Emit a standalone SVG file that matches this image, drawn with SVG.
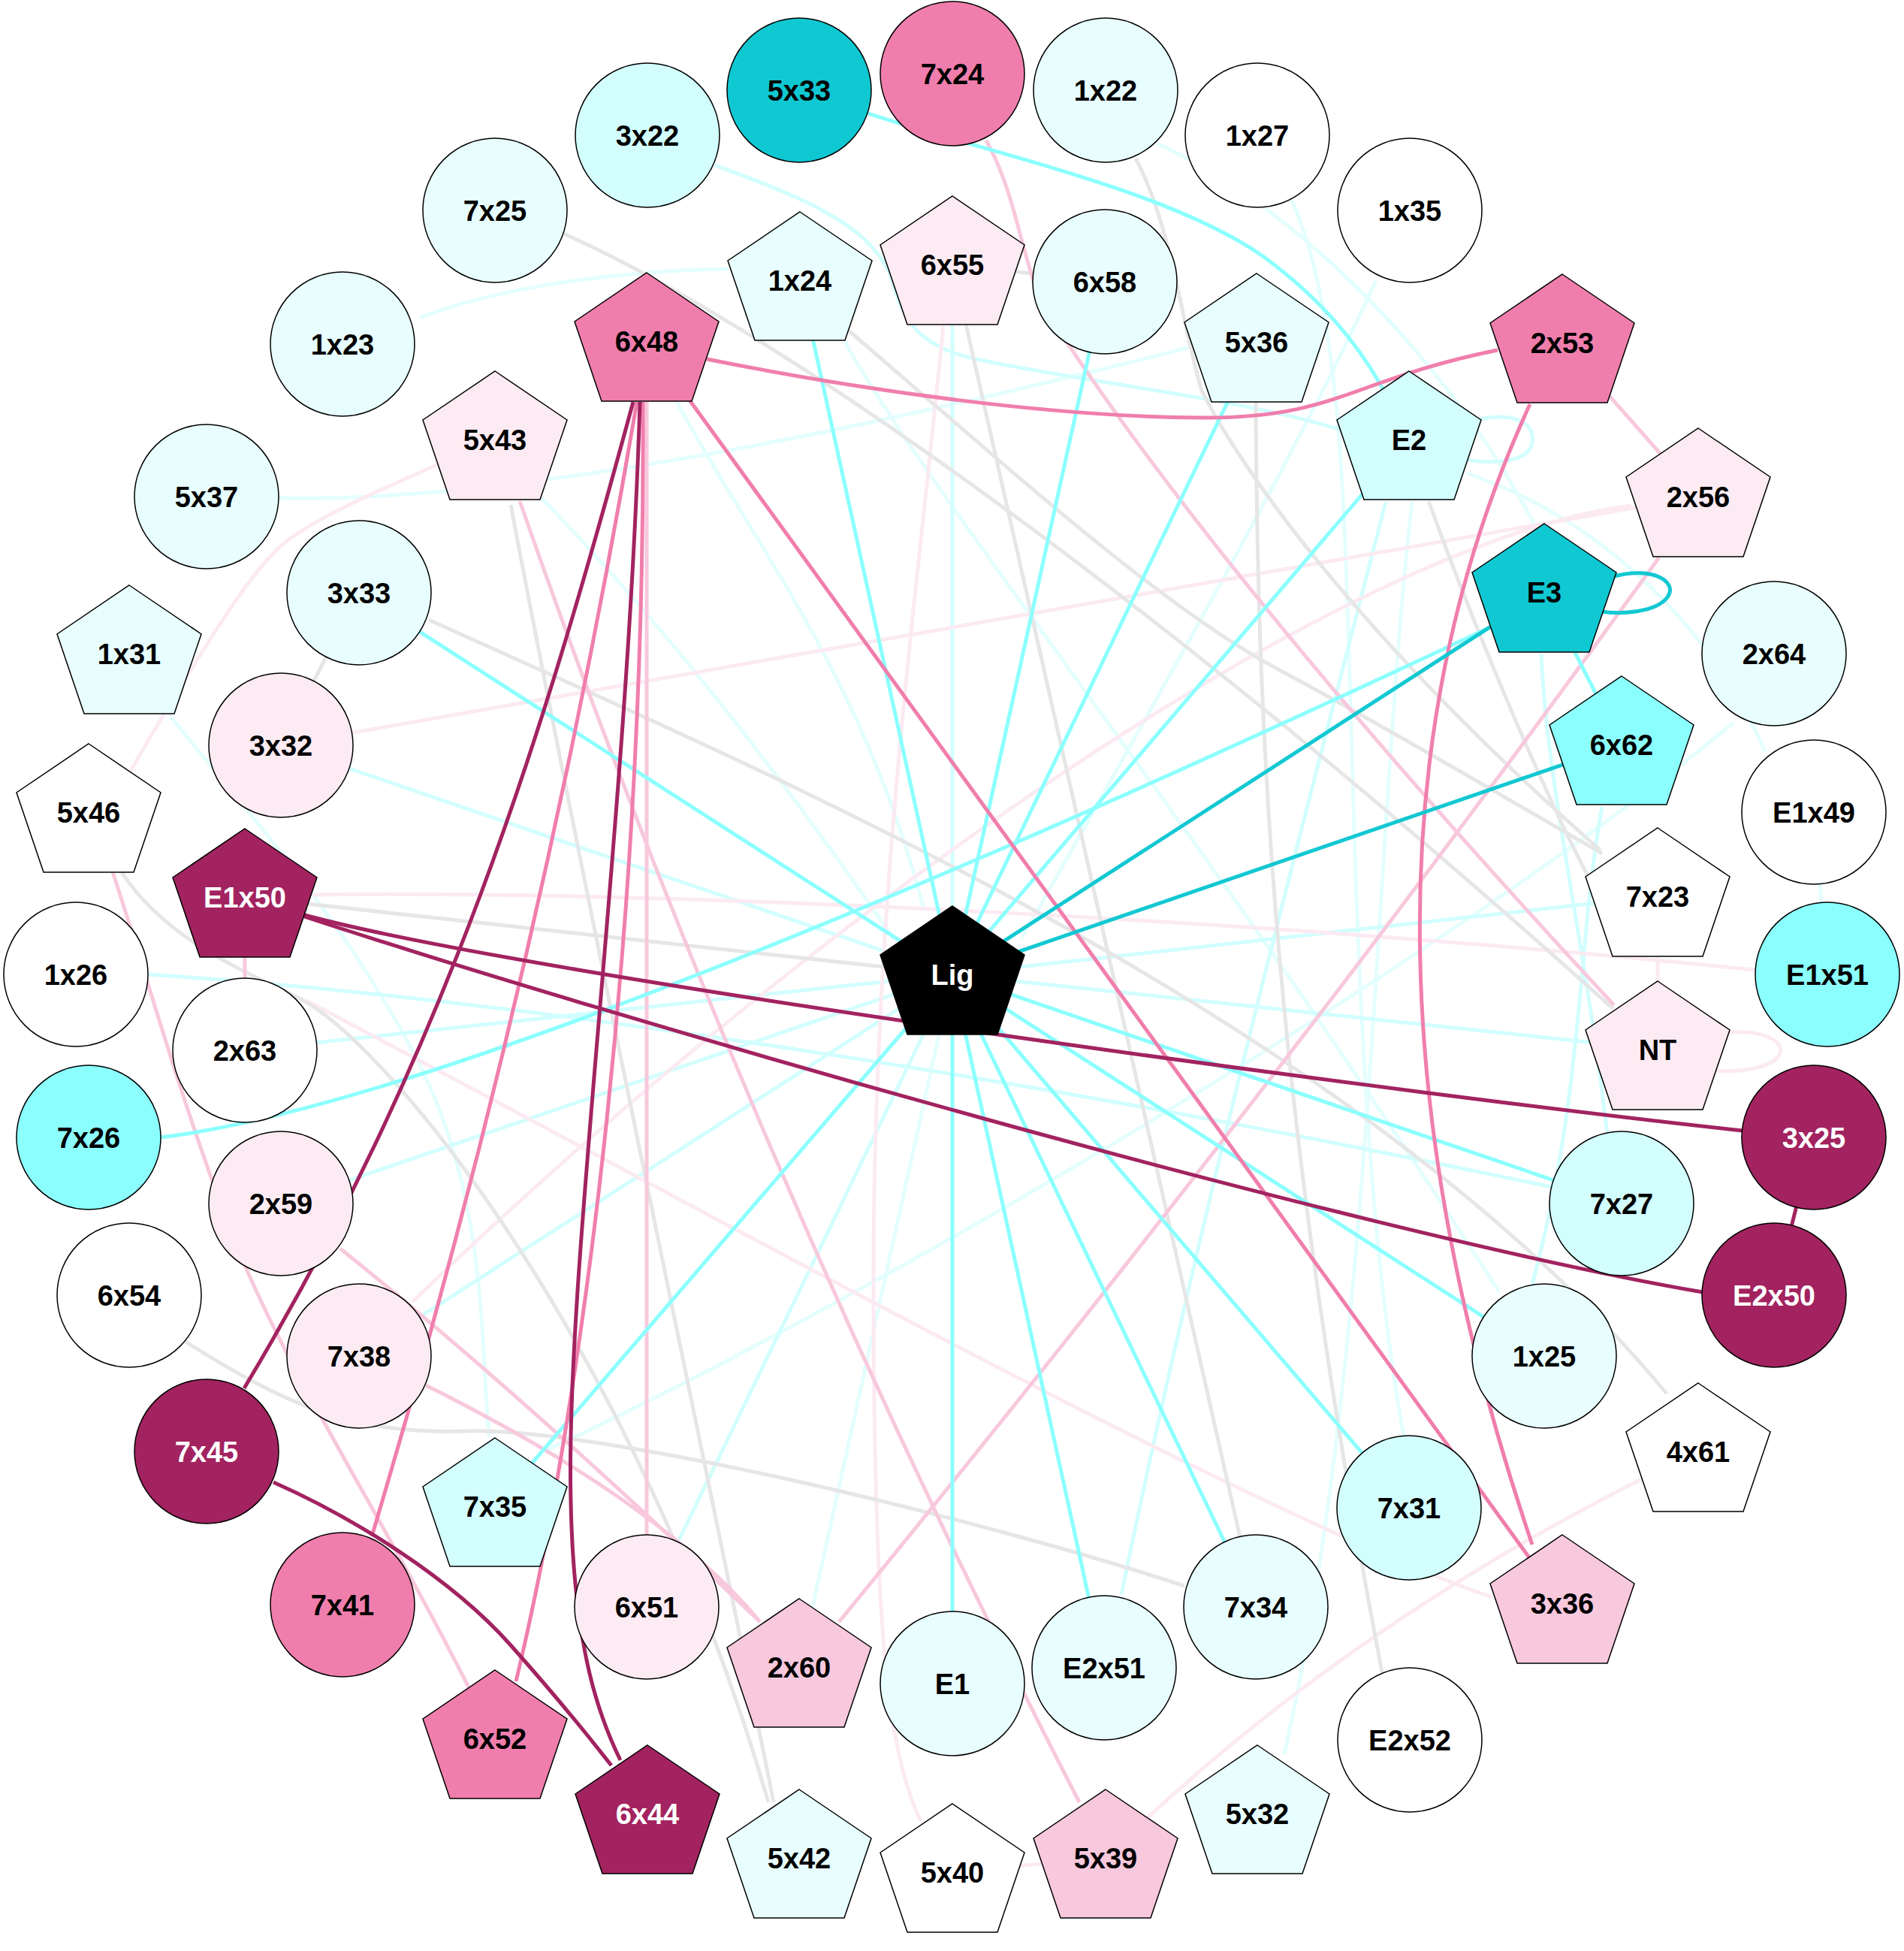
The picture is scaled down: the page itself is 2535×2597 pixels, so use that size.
<svg xmlns="http://www.w3.org/2000/svg" width="2535" height="2597" viewBox="0 0 2535 2597">
<defs>
<style>
.e{fill:none;stroke-width:5}
.lc1{stroke:#E4FEFE}.lc2{stroke:#D2FEFE}.c{stroke:#8BFFFE}.dc{stroke:#12C8D2}
.lp{stroke:#FCEAF2}.p{stroke:#F8C8DC}.mp{stroke:#F07EAC}.dm{stroke:#A22360}.g{stroke:#E6E6E6}
.n{stroke:#000;stroke-width:1.5}
.fw{fill:#FFFFFF}.flc1{fill:#E8FEFE}.flc2{fill:#D2FEFE}.fc{fill:#8BFFFE}.fdc{fill:#10C8D2}
.flp{fill:#FCEBF2}.fp{fill:#F8C8DC}.fmp{fill:#F07EAC}.fdm{fill:#A22360}.fk{fill:#000000}
.t{font-family:"Liberation Sans",Arial,sans-serif;font-weight:bold;font-size:38px;text-anchor:middle;fill:#000}
.tw{fill:#FFFFFF}
</style>
<path id="pg" d="M0,-91 L96,-26 L60,80 L-60,80 L-96,-26 Z"/>
</defs>
<rect width="2535" height="2597" fill="#FFFFFF"/>
<g id="edges">
<path class="e lc1" d="M559,423 C640,390 800,360 970,358"/>
<path class="e lc1" d="M371,663 C700,670 1200,560 1585,462"/>
<path class="e lc1" d="M227,954 C330,1080 470,1240 560,1420 S640,1800 651,1912"/>
<path class="e lc1" d="M721,663 Q950,900 1190,1250"/>
<path class="e lc1" d="M901,535 C1000,720 1150,900 1230,1210"/>
<path class="e lc1" d="M1125,455 C1250,680 1600,1100 1996,1720"/>
<path class="e lc1" d="M1832,373 C1720,620 1500,1000 1360,1250"/>
<path class="e lc1" d="M1719,265 C1790,420 1790,700 1800,1000 C1810,1400 1830,1700 1869,1912"/>
<path class="e lc1" d="M1540,191 C1720,270 1930,480 2045,702"/>
<path class="e lc1" d="M1953,630 C2100,680 2260,800 2350,1000"/>
<path class="e lc1" d="M1880,668 C1830,1100 1830,1800 1710,2335"/>
<path class="e lc1" d="M728,1930 C1100,1760 1900,1300 2308,962"/>
<path class="e lc1" d="M1268,1297 L1064,2219"/>
<path class="e lc1" d="M2415,1081 L2433,1297"/>
<path class="e lc2" d="M1268,352 L1268,1297"/>
<path class="e lc2" d="M1268,1297 L2207,1193"/>
<path class="e lc2" d="M1268,1297 L2207,1397"/>
<path class="e lc2" d="M374,992 L1268,1297"/>
<path class="e lc2" d="M326,1398 L1268,1297"/>
<path class="e lc2" d="M374,1602 L1268,1297"/>
<path class="e lc2" d="M478,1805 L1268,1297"/>
<path class="e lc2" d="M861,2139 L1268,1297"/>
<path class="e lc2" d="M197,1297 C700,1330 1400,1440 2066,1580"/>
<path class="e lc2" d="M952,220 C1060,260 1170,300 1190,380 C1205,440 1240,465 1300,478 C1450,510 1650,530 1785,572"/>
<path class="e lc2" d="M1950,563 C2010,545 2045,560 2040,590 C2035,615 1990,618 1953,612"/>
<path class="e lc2" d="M1845,668 C1760,1000 1600,1600 1493,2123"/>
<path class="e lc2" d="M2052,871 C2060,1050 2110,1250 2140,1510"/>
<path class="e lc2" d="M2133,1074 C2100,1250 2110,1450 2040,1710"/>
<path class="e lp" d="M583,618 C500,655 420,690 381,721 S300,820 283,846 S200,980 174,1026"/>
<path class="e lp" d="M374,992 L2261,661"/>
<path class="e lp" d="M2172,673 C1800,720 1100,1200 549,1733"/>
<path class="e lp" d="M415,1191 C900,1185 1700,1225 2345,1292"/>
<path class="e lp" d="M1256,434 C1220,800 1163,1200 1163,1700 C1163,2150 1180,2330 1226,2424"/>
<path class="e lp" d="M1268,2492 L1472,2473"/>
<path class="e lp" d="M2261,1932 Q1800,2150 1472,2473"/>
<path class="e lp" d="M408,1332 C900,1590 1650,2010 1986,2126"/>
<path class="e lp" d="M2207,1193 L2207,1397"/>
<path class="e lp" d="M2285,1376 C2345,1368 2375,1385 2370,1401 C2365,1420 2320,1428 2285,1425"/>
<path class="e g" d="M746,309 C1000,420 1500,760 2148,1343"/>
<path class="e g" d="M1130,440 C1350,630 1550,810 1700,890 S2000,1060 2133,1136"/>
<path class="e g" d="M1512,211 C1560,300 1575,440 1600,520 C1650,620 1800,840 2131,1132"/>
<path class="e g" d="M1902,667 C1950,800 2050,1050 2133,1202"/>
<path class="e g" d="M571,825 C1000,1020 1800,1350 2219,1855"/>
<path class="e g" d="M478,789 L374,992"/>
<path class="e g" d="M326,1194 L1268,1297"/>
<path class="e g" d="M680,672 C780,1200 930,1900 1030,2399"/>
<path class="e g" d="M162,1161 C220,1250 320,1290 397,1328 C520,1390 850,1800 1023,2399"/>
<path class="e g" d="M247,1786 C380,1870 470,1910 620,1905 C800,1900 1300,2020 1577,2111"/>
<path class="e g" d="M1268,352 L1672,2139"/>
<path class="e g" d="M1672,535 C1674,1000 1700,1500 1840,2226"/>
<path class="e g" d="M1268,352 L1471,375"/>
<path class="e p" d="M861,454 L861,2139"/>
<path class="e p" d="M1313,187 C1365,280 1360,390 1420,455 Q1650,800 2149,1338"/>
<path class="e p" d="M2080,456 L2261,661"/>
<path class="e p" d="M2209,742 Q1690,1460 1117,2159"/>
<path class="e p" d="M453,1662 Q700,1860 1012,2159"/>
<path class="e p" d="M567,1844 Q880,2000 1012,2159"/>
<path class="e p" d="M692,667 Q1000,1550 1437,2399"/>
<path class="e p" d="M150,1161 C190,1280 230,1430 300,1620 S500,2000 624,2246"/>
<path class="e p" d="M326,1194 L326,1398"/>
<path class="e c" d="M1268,1297 L1065,373"/>
<path class="e c" d="M1268,1297 L1471,375"/>
<path class="e c" d="M1268,1297 L1673,455"/>
<path class="e c" d="M1268,1297 L1876,585"/>
<path class="e c" d="M1268,1297 L2159,1602"/>
<path class="e c" d="M1268,1297 L2056,1805"/>
<path class="e c" d="M1268,1297 L1876,2007"/>
<path class="e c" d="M1268,1297 L1672,2139"/>
<path class="e c" d="M1268,1297 L1470,2220"/>
<path class="e c" d="M1268,1297 L1268,2241"/>
<path class="e c" d="M1268,1297 L659,2005"/>
<path class="e c" d="M1268,1297 L478,789"/>
<path class="e c" d="M214,1514 Q654,1461 1990,832"/>
<path class="e c" d="M1150,149 C1300,200 1550,250 1680,340 Q1790,420 1845,525"/>
<path class="e c" d="M2056,788 L2159,991"/>
<path class="e mp" d="M941,478 C1150,520 1400,555 1600,556 C1780,557 1800,505 1994,466"/>
<path class="e mp" d="M861,454 L2080,2134"/>
<path class="e mp" d="M848,535 C763,1035 645,1545 495,2045"/>
<path class="e mp" d="M856,535 C860,1200 780,1850 687,2238"/>
<path class="e mp" d="M2037,538 C1841,964 1841,1470 2040,2056"/>
<path class="e dc" d="M1268,1297 L2056,788"/>
<path class="e dc" d="M1268,1297 L2159,991"/>
<path class="e dc" d="M2146,768 C2200,752 2235,775 2220,795 C2205,815 2160,818 2131,814"/>
<path class="e dm" d="M843,535 C721,985 595,1398 325,1848"/>
<path class="e dm" d="M852,535 C835,1100 752,1700 760,2000 C764,2200 800,2290 826,2343"/>
<path class="e dm" d="M364,1973 C470,2020 600,2100 680,2190 S790,2320 814,2350"/>
<path class="e dm" d="M402,1217 C700,1300 1900,1460 2320,1505"/>
<path class="e dm" d="M405,1220 C800,1350 1800,1640 2267,1720"/>
<path class="e dm" d="M2415,1514 L2362,1724"/>
</g>
<g id="nodes">
<g id="n7x24"><circle cx="1268" cy="98" r="96" class="n fmp"/><text x="1268" y="111.5" class="t">7x24</text></g>
<g id="n1x22"><circle cx="1472" cy="120" r="96" class="n flc1"/><text x="1472" y="133.5" class="t">1x22</text></g>
<g id="n1x27"><circle cx="1674" cy="180" r="96" class="n fw"/><text x="1674" y="193.5" class="t">1x27</text></g>
<g id="n1x35"><circle cx="1877" cy="280" r="96" class="n fw"/><text x="1877" y="293.5" class="t">1x35</text></g>
<g id="n2x53"><use href="#pg" x="2080" y="456" class="n fmp"/><text x="2080" y="469.5" class="t">2x53</text></g>
<g id="n2x56"><use href="#pg" x="2261" y="661" class="n flp"/><text x="2261" y="674.5" class="t">2x56</text></g>
<g id="n2x64"><circle cx="2362" cy="870" r="96" class="n flc1"/><text x="2362" y="883.5" class="t">2x64</text></g>
<g id="nE1x49"><circle cx="2415" cy="1081" r="96" class="n fw"/><text x="2415" y="1094.5" class="t">E1x49</text></g>
<g id="nE1x51"><circle cx="2433" cy="1297" r="96" class="n fc"/><text x="2433" y="1310.5" class="t">E1x51</text></g>
<g id="n3x25"><circle cx="2415" cy="1514" r="96" class="n fdm"/><text x="2415" y="1527.5" class="t tw">3x25</text></g>
<g id="nE2x50"><circle cx="2362" cy="1724" r="96" class="n fdm"/><text x="2362" y="1737.5" class="t tw">E2x50</text></g>
<g id="n4x61"><use href="#pg" x="2261" y="1932" class="n fw"/><text x="2261" y="1945.5" class="t">4x61</text></g>
<g id="n3x36"><use href="#pg" x="2080" y="2134" class="n fp"/><text x="2080" y="2147.5" class="t">3x36</text></g>
<g id="nE2x52"><circle cx="1877" cy="2316" r="96" class="n fw"/><text x="1877" y="2329.5" class="t">E2x52</text></g>
<g id="n5x32"><use href="#pg" x="1674" y="2414" class="n flc1"/><text x="1674" y="2427.5" class="t">5x32</text></g>
<g id="n5x39"><use href="#pg" x="1472" y="2473" class="n fp"/><text x="1472" y="2486.5" class="t">5x39</text></g>
<g id="n5x40"><use href="#pg" x="1268" y="2492" class="n fw"/><text x="1268" y="2505.5" class="t">5x40</text></g>
<g id="n5x42"><use href="#pg" x="1064" y="2473" class="n flc1"/><text x="1064" y="2486.5" class="t">5x42</text></g>
<g id="n6x44"><use href="#pg" x="862" y="2414" class="n fdm"/><text x="862" y="2427.5" class="t tw">6x44</text></g>
<g id="n6x52"><use href="#pg" x="659" y="2314" class="n fmp"/><text x="659" y="2327.5" class="t">6x52</text></g>
<g id="n7x41"><circle cx="456" cy="2136" r="96" class="n fmp"/><text x="456" y="2149.5" class="t">7x41</text></g>
<g id="n7x45"><circle cx="275" cy="1932" r="96" class="n fdm"/><text x="275" y="1945.5" class="t tw">7x45</text></g>
<g id="n6x54"><circle cx="172" cy="1724" r="96" class="n fw"/><text x="172" y="1737.5" class="t">6x54</text></g>
<g id="n7x26"><circle cx="118" cy="1514" r="96" class="n fc"/><text x="118" y="1527.5" class="t">7x26</text></g>
<g id="n1x26"><circle cx="101" cy="1297" r="96" class="n fw"/><text x="101" y="1310.5" class="t">1x26</text></g>
<g id="n5x46"><use href="#pg" x="118" y="1081" class="n fw"/><text x="118" y="1094.5" class="t">5x46</text></g>
<g id="n1x31"><use href="#pg" x="172" y="870" class="n flc1"/><text x="172" y="883.5" class="t">1x31</text></g>
<g id="n5x37"><circle cx="275" cy="661" r="96" class="n flc1"/><text x="275" y="674.5" class="t">5x37</text></g>
<g id="n1x23"><circle cx="456" cy="458" r="96" class="n flc1"/><text x="456" y="471.5" class="t">1x23</text></g>
<g id="n7x25"><circle cx="659" cy="280" r="96" class="n flc1"/><text x="659" y="293.5" class="t">7x25</text></g>
<g id="n3x22"><circle cx="862" cy="180" r="96" class="n flc2"/><text x="862" y="193.5" class="t">3x22</text></g>
<g id="n5x33"><circle cx="1064" cy="120" r="96" class="n fdc"/><text x="1064" y="133.5" class="t">5x33</text></g>
<g id="n6x55"><use href="#pg" x="1268" y="352" class="n flp"/><text x="1268" y="365.5" class="t">6x55</text></g>
<g id="n6x58"><circle cx="1471" cy="375" r="96" class="n flc1"/><text x="1471" y="388.5" class="t">6x58</text></g>
<g id="n5x36"><use href="#pg" x="1673" y="455" class="n flc1"/><text x="1673" y="468.5" class="t">5x36</text></g>
<g id="nE2"><use href="#pg" x="1876" y="585" class="n flc2"/><text x="1876" y="598.5" class="t">E2</text></g>
<g id="nE3"><use href="#pg" x="2056" y="788" class="n fdc"/><text x="2056" y="801.5" class="t">E3</text></g>
<g id="n6x62"><use href="#pg" x="2159" y="991" class="n fc"/><text x="2159" y="1004.5" class="t">6x62</text></g>
<g id="n7x23"><use href="#pg" x="2207" y="1193" class="n fw"/><text x="2207" y="1206.5" class="t">7x23</text></g>
<g id="nNT"><use href="#pg" x="2207" y="1397" class="n flp"/><text x="2207" y="1410.5" class="t">NT</text></g>
<g id="n7x27"><circle cx="2159" cy="1602" r="96" class="n flc2"/><text x="2159" y="1615.5" class="t">7x27</text></g>
<g id="n1x25"><circle cx="2056" cy="1805" r="96" class="n flc1"/><text x="2056" y="1818.5" class="t">1x25</text></g>
<g id="n7x31"><circle cx="1876" cy="2007" r="96" class="n flc2"/><text x="1876" y="2020.5" class="t">7x31</text></g>
<g id="n7x34"><circle cx="1672" cy="2139" r="96" class="n flc1"/><text x="1672" y="2152.5" class="t">7x34</text></g>
<g id="nE2x51"><circle cx="1470" cy="2220" r="96" class="n flc1"/><text x="1470" y="2233.5" class="t">E2x51</text></g>
<g id="nE1"><circle cx="1268" cy="2241" r="96" class="n flc1"/><text x="1268" y="2254.5" class="t">E1</text></g>
<g id="n2x60"><use href="#pg" x="1064" y="2219" class="n fp"/><text x="1064" y="2232.5" class="t">2x60</text></g>
<g id="n6x51"><circle cx="861" cy="2139" r="96" class="n flp"/><text x="861" y="2152.5" class="t">6x51</text></g>
<g id="n7x35"><use href="#pg" x="659" y="2005" class="n flc2"/><text x="659" y="2018.5" class="t">7x35</text></g>
<g id="n7x38"><circle cx="478" cy="1805" r="96" class="n flp"/><text x="478" y="1818.5" class="t">7x38</text></g>
<g id="n2x59"><circle cx="374" cy="1602" r="96" class="n flp"/><text x="374" y="1615.5" class="t">2x59</text></g>
<g id="n2x63"><circle cx="326" cy="1398" r="96" class="n fw"/><text x="326" y="1411.5" class="t">2x63</text></g>
<g id="nE1x50"><use href="#pg" x="326" y="1194" class="n fdm"/><text x="326" y="1207.5" class="t tw">E1x50</text></g>
<g id="n3x32"><circle cx="374" cy="992" r="96" class="n flp"/><text x="374" y="1005.5" class="t">3x32</text></g>
<g id="n3x33"><circle cx="478" cy="789" r="96" class="n flc1"/><text x="478" y="802.5" class="t">3x33</text></g>
<g id="n5x43"><use href="#pg" x="659" y="585" class="n flp"/><text x="659" y="598.5" class="t">5x43</text></g>
<g id="n6x48"><use href="#pg" x="861" y="454" class="n fmp"/><text x="861" y="467.5" class="t">6x48</text></g>
<g id="n1x24"><use href="#pg" x="1065" y="373" class="n flc1"/><text x="1065" y="386.5" class="t">1x24</text></g>
<g id="nLig"><use href="#pg" x="1268" y="1297" class="n fk"/><text x="1268" y="1310.5" class="t tw">Lig</text></g>
</g>
</svg>
